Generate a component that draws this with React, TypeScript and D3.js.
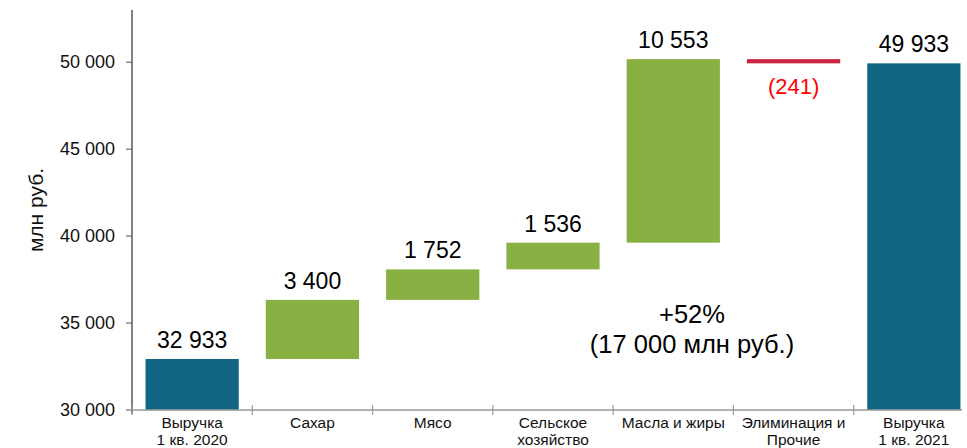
import * as d3 from 'd3';

const categories = [
    ['Выручка', '1 кв. 2020'],
    ['Сахар'],
    ['Мясо'],
    ['Сельское', 'хозяйство'],
    ['Масла и жиры'],
    ['Элиминация и', 'Прочие'],
    ['Выручка', '1 кв. 2021'],
];
// signed change for each step; totals flagged separately
const deltas = [32933, 3400, 1752, 1536, 10553, -241, 49933];
const isTotal = [true, false, false, false, false, false, true];
const yTicks = [30000, 35000, 40000, 45000, 50000];

const W = 967;
const H = 448;
const BLUE = '#116783';
const GREEN = '#88b043';
const RED = '#c9243f';
const FONT = '"Liberation Sans", Arial, sans-serif';

const fmt = (v: number) => d3.format(',')(v).replace(/,/g, ' ');

export default function App() {
    const x = d3.scaleBand<number>()
        .domain(d3.range(categories.length))
        .range([132, 974])
        .paddingInner(0.225)
        .paddingOuter(0.1125);
    const y = d3.scaleLinear().domain([30000, 53000]).range([410, 10]);

    // running totals for the floating bars
    let run = 0;
    const steps = deltas.map((d, i) => {
        if (isTotal[i]) {
            run = d;
            return { i, from: 0, to: d, d };
        }
        const from = run;
        run += d;
        return { i, from, to: run, d };
    });

    const band = x.step();
    const x0 = 132;

    return (
        <svg width={W} height={H} style={{ position: 'absolute', left: 0, top: 0, fontFamily: FONT }}>
            <rect width={W} height={H} fill="white" />
            {/* y axis */}
            <line x1={x0} x2={x0} y1={y(53000)} y2={y(30000) + 4} stroke="#000" strokeWidth={1} />
            {yTicks.map(t => (
                <g key={t}>
                    <line x1={x0 - 6} x2={x0} y1={y(t)} y2={y(t)} stroke="#555" />
                    <text x={x0 - 17} y={y(t)} dy="0.35em" textAnchor="end" fontSize={18} fill="#111">{fmt(t)}</text>
                </g>
            ))}
            <text transform={`translate(43,${y(41500)}) rotate(-90)`} textAnchor="middle" fontSize={21} fill="#111">млн руб.</text>

            {/* bars */}
            {steps.map(s => {
                const top = y(Math.max(s.from, s.to));
                const bot = y(Math.max(Math.min(s.from, s.to), 30000));
                const color = isTotal[s.i] ? BLUE : s.d < 0 ? RED : GREEN;
                const bx = x(s.i)!;
                const bw = x.bandwidth();
                return (
                    <g key={s.i}>
                        <rect x={bx} y={top} width={bw} height={Math.max(bot - top, 1)} fill={color} />
                        {s.d < 0 ? (
                            <text x={bx + bw / 2} y={bot + 31} textAnchor="middle" fontSize={22} fill="#ff0000">({fmt(-s.d)})</text>
                        ) : (
                            <text x={bx + bw / 2} y={top - 11} textAnchor="middle" fontSize={23} fill="#000">{fmt(s.d)}</text>
                        )}
                    </g>
                );
            })}

            {/* x axis */}
            <line x1={x0} x2={962} y1={y(30000)} y2={y(30000)} stroke="#999" strokeWidth={1.5} />
            {d3.range(categories.length + 1).map(i => (
                <line key={i} x1={x0 + i * band} x2={x0 + i * band} y1={y(30000) - 5} y2={y(30000) + 5} stroke="#999" strokeWidth={1.2} />
            ))}
            {categories.map((c, i) => (
                <text key={i} x={x(i)! + x.bandwidth() / 2} y={428} textAnchor="middle" fontSize={15.5} fill="#111">
                    {c.map((line, j) => (
                        <tspan key={j} x={x(i)! + x.bandwidth() / 2} dy={j === 0 ? 0 : 17}>{line}</tspan>
                    ))}
                </text>
            ))}

            {/* growth note */}
            <text x={692} y={323} textAnchor="middle" fontSize={25.5} fill="#000">+52%</text>
            <text x={692} y={353} textAnchor="middle" fontSize={25.5} fill="#000">(17 000 млн руб.)</text>
        </svg>
    );
}
